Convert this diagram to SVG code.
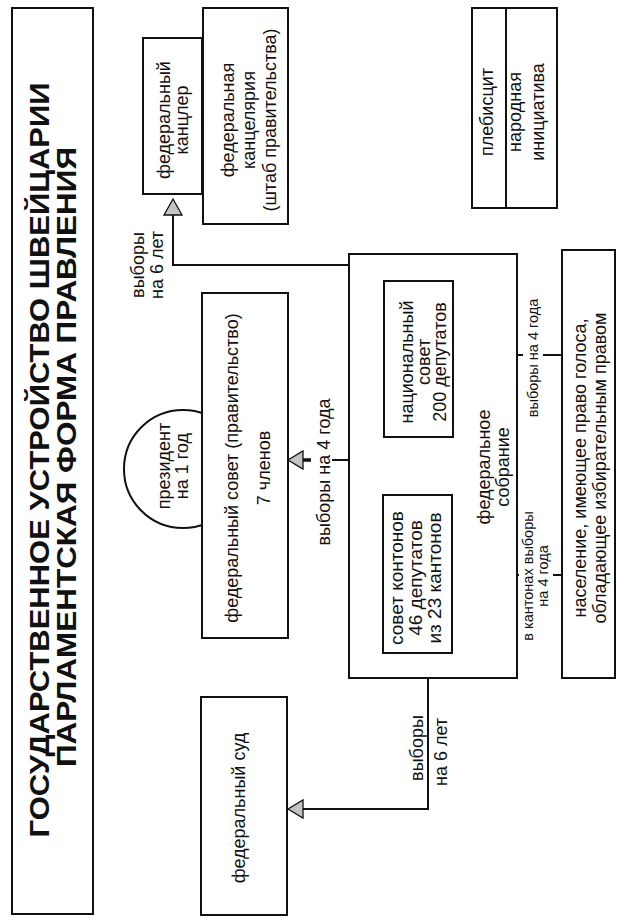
<svg xmlns="http://www.w3.org/2000/svg" width="624" height="923" viewBox="0 0 624 923">
<style>
.box{fill:#fff;stroke:#111;stroke-width:2}
.ln{fill:none;stroke:#111;stroke-width:2}
.thick{fill:none;stroke:#111;stroke-width:3.5}
.tri{fill:#c4c4c4;stroke:#111;stroke-width:1.3}
text{font-family:"Liberation Sans",Arial,sans-serif;fill:#111;text-anchor:middle}
.t{font-size:18px}
.b{font-size:19px}
.s{font-size:14.5px}
.h{font-size:27px;font-weight:bold}
</style>
<rect width="624" height="923" fill="#fff"/>
<g id="title">
<rect class="box" x="12" y="8" width="81" height="906"/>
<text class="h" transform="translate(49,460) rotate(-90)" textLength="755" lengthAdjust="spacingAndGlyphs">ГОСУДАРСТВЕННОЕ УСТРОЙСТВО ШВЕЙЦАРИИ</text>
<text class="h" transform="translate(76,457) rotate(-90)" textLength="620" lengthAdjust="spacingAndGlyphs">ПАРЛАМЕНТСКАЯ ФОРМА ПРАВЛЕНИЯ</text>
</g>
<g id="connectors">
<path class="ln" d="M350,265 H173 V215"/>
<polygon class="tri" points="173,199 164,215 182,215"/>
<text class="t" transform="translate(144,265) rotate(-90)">выборы<tspan x="0" dy="19">на 6 лет</tspan></text>
<path class="thick" d="M303,460 H311"/>
<path class="ln" d="M332,460 H350"/>
<polygon class="tri" points="288,460 303,451 303,469"/>
<text class="t" transform="translate(330,472) rotate(-90)">выборы на 4 года</text>
<path class="thick" d="M472,355 H490"/>
<path class="ln" d="M490,355 H523 M543,355 H562"/>
<polygon class="tri" points="457,355 472,346 472,364"/>
<text class="s" transform="translate(538,358) rotate(-90)">выборы на 4 года</text>
<path class="thick" d="M470,575 H488"/>
<path class="ln" d="M488,575 H519 M553,575 H562"/>
<polygon class="tri" points="455,575 470,566 470,584"/>
<text class="s" transform="translate(533,576) rotate(-90)">в кантонах выборы<tspan x="0" dy="15">на 4 года</tspan></text>
<path class="ln" d="M428,678 V809 H303"/>
<polygon class="tri" points="288,809 303,800 303,818"/>
<text class="t" transform="translate(423,748) rotate(-90)">выборы</text>
<text class="t" transform="translate(447,752) rotate(-90)">на 6 лет</text>
</g>
<g id="chancellor">
<rect class="box" x="143" y="38" width="59" height="156"/>
<text class="t" transform="translate(170,120) rotate(-90)">федеральный<tspan x="0" dy="18">канцлер</tspan></text>
</g>
<g id="chancellery">
<rect class="box" x="203" y="8" width="85" height="216"/>
<text class="t" transform="translate(234,120) rotate(-90)">федеральная<tspan x="0" dy="21">канцелярия</tspan><tspan x="0" dy="21">(штаб правительства)</tspan></text>
</g>
<g id="plebiscite">
<rect class="box" x="472" y="8" width="85" height="200"/>
<line class="ln" x1="506" y1="8" x2="506" y2="208"/>
<text class="t" transform="translate(493,112) rotate(-90)">плебисцит</text>
<text class="t" transform="translate(521,112) rotate(-90)">народная<tspan x="0" dy="23">инициатива</tspan></text>
</g>
<g id="president">
<circle cx="183" cy="469" r="59" fill="#fff" stroke="#111" stroke-width="2"/>
<text class="t" transform="translate(170,466) rotate(-90)">президент<tspan x="0" dy="18">на 1 год</tspan></text>
</g>
<g id="federal-council">
<rect class="box" x="202" y="293" width="86" height="345"/>
<text class="t" transform="translate(238,468) rotate(-90)">федеральный совет (правительство)<tspan x="0" dy="32">7 членов</tspan></text>
</g>
<g id="federal-assembly">
<rect class="box" x="349" y="254" width="168" height="424" fill="none"/>
<text class="t" transform="translate(490,467) rotate(-90)">федеральное<tspan x="0" dy="19">собрание</tspan></text>
</g>
<g id="national-council">
<rect class="box" x="384" y="281" width="69" height="156"/>
<text class="t" transform="translate(413,362) rotate(-90)">национальный<tspan x="0" dy="16.5">совет</tspan><tspan x="0" dy="16.5">200 депутатов</tspan></text>
</g>
<g id="council-cantons">
<rect class="box" x="383" y="495" width="69" height="158"/>
<text class="b" transform="translate(403,578) rotate(-90)">совет контонов<tspan x="0" dy="19">46 депутатов</tspan><tspan x="0" dy="19">из 23 кантонов</tspan></text>
</g>
<g id="population">
<rect class="box" x="562" y="250" width="53" height="428"/>
<text class="t" transform="translate(586,468) rotate(-90)">население, имеющее право голоса,<tspan x="0" dy="20">обладающее избирательным правом</tspan></text>
</g>
<g id="court">
<rect class="box" x="201" y="697" width="86" height="218"/>
<text class="t" transform="translate(245,808) rotate(-90)">федеральный суд</text>
</g>
</svg>
